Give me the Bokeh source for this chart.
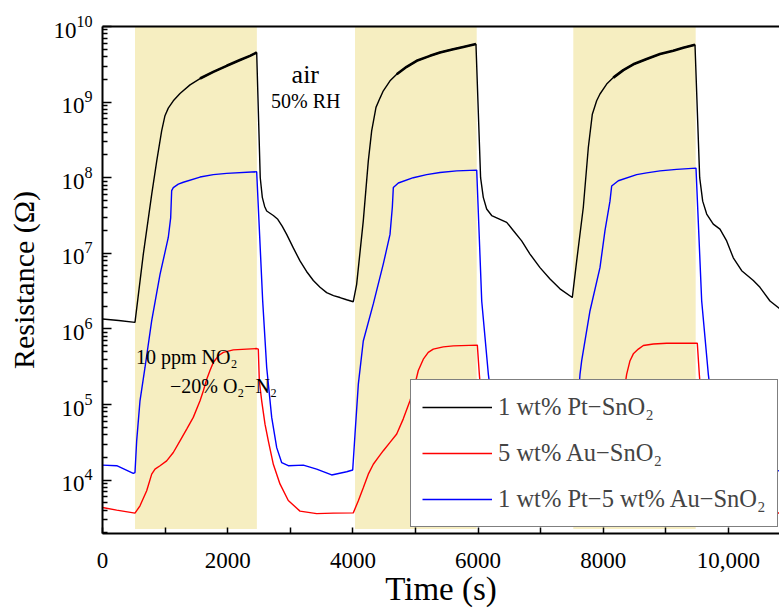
import numpy as np
from bokeh.plotting import figure
from bokeh.models import (Range1d, FixedTicker, LinearAxis, Legend, LegendItem, Label)
from bokeh.embed import file_html
from bokeh.resources import INLINE

# ---------------- data ----------------
# gas-exposure windows (10 ppm NO2 in 20% O2-N2), seconds
band_start = [519, 4034, 7521]
band_end = [2466, 5978, 9476]

# 1 wt% Pt-SnO2 (black)
black_t = [0, 260, 519, 652, 786, 866, 945, 998, 1051, 1131, 1238, 1398, 1558, 1770, 1984, 2196, 2356, 2463,
           2520, 2553, 2590, 2623, 2729, 2800, 2870, 2942, 3050, 3155, 3260, 3368, 3475, 3581, 3690, 3794, 3900, 4006,
           4060, 4166, 4246, 4300, 4369, 4433, 4486, 4593, 4700, 4859, 5019, 5232, 5391, 5604, 5764, 5966,
           6040, 6083, 6137, 6217, 6350, 6457, 6562, 6696, 6829, 6989, 7149, 7308, 7505,
           7575, 7681, 7761, 7825, 7894, 7947, 8054, 8160, 8320, 8480, 8693, 8906, 9118, 9278, 9465,
           9540, 9588, 9652, 9757, 9864, 9971, 10077, 10211, 10397, 10503, 10663, 10815]
black_R = [1.35e6, 1.29e6, 1.22e6, 9.77e6, 6.03e7, 1.66e8, 4.17e8, 6.61e8, 8.32e8, 1.04e9, 1.30e9, 1.69e9, 2.05e9, 2.51e9, 3.02e9, 3.60e9, 4.09e9, 4.53e9,
           1.00e8, 5.50e7, 4.17e7, 3.63e7, 3.16e7, 2.82e7, 2.29e7, 1.78e7, 1.17e7, 7.94e6, 5.75e6, 4.37e6, 3.55e6, 3.02e6, 2.75e6, 2.60e6, 2.43e6, 2.29e6,
           3.89e6, 2.69e7, 1.66e8, 4.17e8, 8.51e8, 1.13e9, 1.41e9, 1.91e9, 2.34e9, 2.93e9, 3.52e9, 4.09e9, 4.53e9, 5.01e9, 5.37e9, 5.85e9,
           1.00e8, 5.50e7, 3.85e7, 3.16e7, 2.82e7, 2.57e7, 2.00e7, 1.46e7, 9.77e6, 6.46e6, 4.57e6, 3.39e6, 2.60e6,
           7.94e6, 4.07e7, 2.51e8, 6.92e8, 1.04e9, 1.28e9, 1.73e9, 2.11e9, 2.65e9, 3.16e9, 3.71e9, 4.32e9, 4.79e9, 5.25e9, 5.73e9,
           1.00e8, 4.90e7, 3.31e7, 2.43e7, 2.09e7, 1.46e7, 8.71e6, 5.89e6, 4.37e6, 3.55e6, 2.34e6, 1.86e6]

# 5 wt% Au-SnO2 (red)
red_t = [0, 227, 519, 599, 706, 786, 839, 919, 1025, 1131, 1238, 1345, 1450, 1558, 1610, 1665, 1717, 1770, 1850, 1930, 2089, 2303, 2463,
         2489, 2505, 2543, 2596, 2649, 2729, 2835, 2968, 3155, 3421, 3687, 4006,
         4087, 4166, 4246, 4326, 4406, 4486, 4593, 4700, 4805, 4912, 4992, 5045, 5125, 5204, 5284, 5444, 5604, 5988,
         6020, 6054, 6107, 6160, 6240, 6346, 6479, 6666, 6932, 7198, 7521,
         7600, 7680, 7760, 7840, 7920, 8000, 8090, 8180, 8260, 8320, 8373, 8427, 8480, 8560, 8640, 8800, 9013, 9502,
         9534, 9568, 9620, 9673, 9753, 9859, 9992, 10179, 10445, 10711, 10815]
red_R = [4.35e3, 4.01e3, 3.66e3, 4.57e3, 7.24e3, 1.20e4, 1.40e4, 1.55e4, 1.80e4, 2.32e4, 3.31e4, 4.73e4, 6.76e4, 1.12e5, 1.51e5, 2.16e5, 2.82e5, 3.60e5, 4.41e5, 4.90e5, 5.28e5, 5.41e5, 5.50e5,
         5.41e5, 2.06e5, 1.12e5, 5.50e4, 3.31e4, 1.62e4, 8.91e3, 5.37e3, 3.89e3, 3.61e3, 3.66e3, 3.69e3,
         5.32e3, 7.94e3, 1.20e4, 1.62e4, 2.00e4, 2.45e4, 3.16e4, 4.07e4, 6.46e4, 1.12e5, 1.86e5, 2.82e5, 3.98e5, 4.90e5, 5.41e5, 5.79e5, 5.97e5, 6.11e5,
         2.51e5, 1.12e5, 5.50e4, 3.31e4, 1.62e4, 8.91e3, 5.37e3, 3.89e3, 3.61e3, 3.66e3, 3.69e3,
         5.37e3, 7.94e3, 1.20e4, 1.62e4, 2.00e4, 2.45e4, 3.16e4, 4.47e4, 7.08e4, 1.26e5, 2.51e5, 3.80e5, 4.68e5, 5.41e5, 6.03e5, 6.31e5, 6.46e5, 6.46e5,
         2.51e5, 1.12e5, 5.50e4, 3.31e4, 1.62e4, 8.91e3, 5.37e3, 3.89e3, 3.61e3, 3.66e3, 3.67e3]

# 1 wt% Pt-5 wt% Au-SnO2 (blue)
blue_t = [0, 227, 492, 519, 546, 599, 679, 786, 919, 1051, 1089, 1105, 1131, 1211, 1291, 1558, 1770, 1984, 2463,
          2559, 2623, 2703, 2783, 2863, 2968, 3208, 3421, 3661, 3901, 3997,
          4034, 4087, 4166, 4326, 4486, 4593, 4630, 4646, 4726, 4965, 5178, 5391, 5658, 5978,
          6058, 6164, 6250, 6330, 6420, 6550, 6800, 7000, 7250, 7450, 7521,
          7560, 7628, 7655, 7788, 7947, 8027, 8107, 8134, 8240, 8533, 8693, 8906, 9172, 9481,
          9572, 9678, 9760, 9850, 9950, 10100, 10400, 10815]
blue_R = [1.58e4, 1.55e4, 1.23e4, 1.26e4, 3.31e4, 1.12e5, 3.09e5, 1.29e6, 5.25e6, 1.62e7, 2.95e7, 6.76e7, 7.41e7, 8.22e7, 8.71e7, 1.02e8, 1.10e8, 1.14e8, 1.20e8,
          2.34e6, 3.09e5, 6.76e4, 2.69e4, 1.70e4, 1.55e4, 1.58e4, 1.40e4, 1.17e4, 1.29e4, 1.36e4,
          4.07e4, 1.86e5, 6.92e5, 2.14e6, 7.24e6, 1.78e7, 4.07e7, 7.41e7, 8.51e7, 1.00e8, 1.10e8, 1.17e8, 1.23e8, 1.26e8,
          2.34e6, 2.51e5, 7.08e4, 2.82e4, 1.78e4, 1.58e4, 1.58e4, 1.41e4, 1.20e4, 1.32e4, 1.38e4,
          3.98e4, 2.51e5, 3.80e5, 1.74e6, 6.46e6, 2.00e7, 4.90e7, 7.76e7, 9.12e7, 1.10e8, 1.16e8, 1.23e8, 1.29e8, 1.34e8,
          2.34e6, 2.51e5, 7.08e4, 2.82e4, 1.78e4, 1.58e4, 1.58e4, 1.32e4]

series_names = ["1 wt% Pt\u2212SnO\u2082", "5 wt% Au\u2212SnO\u2082", "1 wt% Pt\u22125 wt% Au\u2212SnO\u2082"]

x_ticks = [0, 2000, 4000, 6000, 8000, 10000]
x_tick_labels = ["0", "2000", "4000", "6000", "8000", "10,000"]
x_minor_ticks = [1000, 3000, 5000, 7000, 9000]
y_ticks = [1e4, 1e5, 1e6, 1e7, 1e8, 1e9, 1e10]

FONT = "Liberation Serif"

# ---------------- figure ----------------
p = figure(width=779, height=610,
           x_range=Range1d(0, 10815), y_range=Range1d(10 ** 3.294, 1e10),
           y_axis_type="log", output_backend="svg", toolbar_location=None,
           min_border_left=102, min_border_right=0, min_border_top=26, min_border_bottom=77)
p.outline_line_color = None
p.grid.visible = False

# exposure bands
p.quad(left=band_start, right=band_end, bottom=2.25e3, top=1e10,
       fill_color="#F6EEC1", line_color=None)

bt = np.array(black_t, dtype=float)
bR = np.array(black_R)
in_band = np.zeros(len(bt), dtype=bool)
for s, e in zip(band_start, band_end):
    in_band |= (bt >= s) & (bt <= e)
noisy = in_band & (bR >= 2.0e9)

r_black = p.line(black_t, black_R, line_color="black", line_width=1.4)
# the noisy saturation part of the black trace looks thicker
for s, e in zip(band_start, band_end):
    m = noisy & (bt >= s) & (bt <= e)
    p.line(bt[m], bR[m], line_color="black", line_width=2.6)
r_red = p.line(red_t, red_R, line_color="#FF0000", line_width=1.4)
r_blue = p.line(blue_t, blue_R, line_color="#0000FF", line_width=1.4)

# axes
xa = p.xaxis[0]
xa.ticker = FixedTicker(ticks=x_ticks, minor_ticks=x_minor_ticks)
xa.major_label_overrides = {t: lab for t, lab in zip(x_ticks, x_tick_labels)}
ya = p.yaxis[0]
y_minor = [m * 10.0 ** k for k in range(3, 10) for m in range(2, 10)]
ya.ticker = FixedTicker(ticks=y_ticks, minor_ticks=y_minor)

for ax in (xa, ya):
    ax.axis_line_width = 2
    ax.major_tick_line_width = 1.5
    ax.minor_tick_line_width = 1.5
    ax.major_tick_out = 0
    ax.minor_tick_out = 0
    ax.major_label_text_font = FONT
    ax.major_label_text_font_size = "23px"
    ax.major_label_text_color = "black"
    ax.axis_label_text_font = FONT
    ax.axis_label_text_font_style = "normal"
    ax.axis_label_text_color = "black"

xa.major_tick_in = 6
xa.minor_tick_in = 6
xa.major_label_standoff = 19
xa.axis_label = "Time (s)"
xa.axis_label_text_font_size = "33px"
xa.axis_label_standoff = 0
ya.major_tick_in = 9
ya.minor_tick_in = 5
ya.major_label_standoff = 10
ya.axis_label = "Resistance (\u03a9)"
ya.axis_label_text_font_size = "30px"
ya.axis_label_standoff = 10

top = LinearAxis(ticker=FixedTicker(ticks=[]), axis_line_width=2,
                 major_tick_line_color=None, minor_tick_line_color=None)
p.add_layout(top, "above")

# annotations
def add_label(x, y, text, size, align="left"):
    p.add_layout(Label(x=x, y=y, text=text, text_font=FONT, text_font_size=size,
                       text_align=align, text_baseline="alphabetic", text_color="black"))

add_label(3240, 2.34e9, "air", "26px", "center")
add_label(3248, 1.02e9, "50% RH", "20px", "center")
add_label(535, 4.19e5, "10 ppm NO\u2082", "20px")
add_label(1078, 1.77e5, "\u221220% O\u2082\u2212N\u2082", "20px")

legend = Legend(items=[LegendItem(label=series_names[0], renderers=[r_black]),
                       LegendItem(label=series_names[1], renderers=[r_red]),
                       LegendItem(label=series_names[2], renderers=[r_blue])],
                location=(308, 6), margin=0, padding=11, spacing=14,
                glyph_width=70, glyph_height=32, label_height=32, label_standoff=6,
                label_text_font=FONT, label_text_font_size="24.5px",
                border_line_color="black", border_line_width=1.5,
                background_fill_color="white", background_fill_alpha=1.0)
p.add_layout(legend)

open("out.html", "w").write(file_html(p, INLINE))
